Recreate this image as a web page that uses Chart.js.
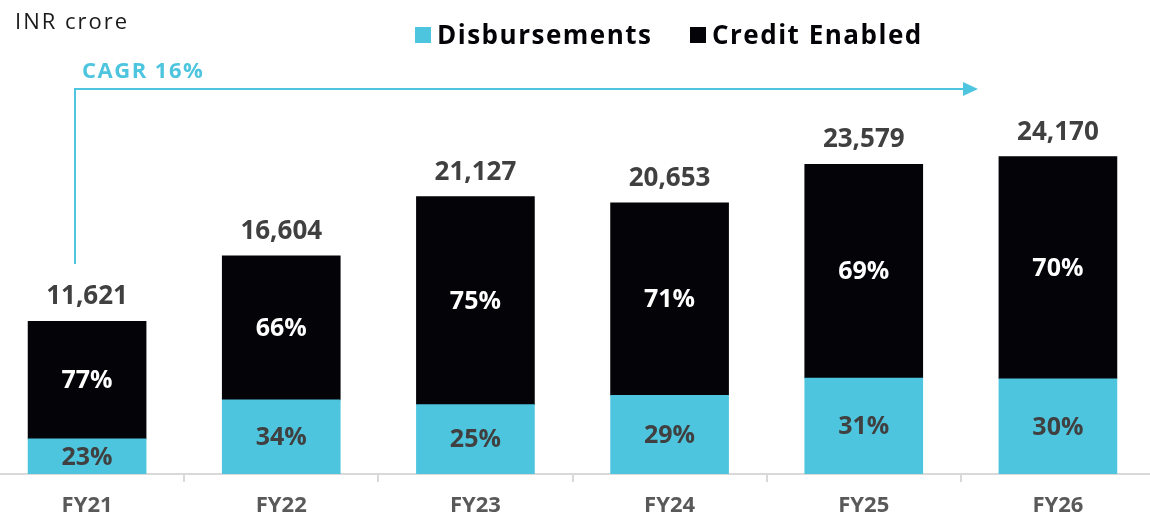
<!DOCTYPE html>
<html lang="en">
<head>
    <meta charset="UTF-8">
    <title>Disbursements and Credit Enabled</title>
    <script src="https://cdn.jsdelivr.net/npm/chart.js"></script>
    <style>
        body { margin: 0; overflow: hidden; background: #fff; }
        #wrap { position: absolute; left: -10px; top: 0; width: 1165px; height: 517px; }
    </style>
</head>
<body>
    <div id="wrap">
        <canvas id="myChart"></canvas>
    </div>

    <script>
        // data
        const years = ['FY21', 'FY22', 'FY23', 'FY24', 'FY25', 'FY26'];
        const totals = [11621, 16604, 21127, 20653, 23579, 24170];
        const disbPct = [23, 34, 25, 29, 31, 30];
        const creditPct = [77, 66, 75, 71, 69, 70];

        const cyan = '#4ec5df';
        const black = '#030308';
        const grey = '#404040';

        const disbVals = totals.map((t, i) => t * disbPct[i] / 100);
        const creditVals = totals.map((t, i) => t * creditPct[i] / 100);

        // labels on the bars
        const barLabels = {
            id: 'barLabels',
            afterDatasetsDraw(chart) {
                const ctx = chart.ctx;
                const disbMeta = chart.getDatasetMeta(0);
                const credMeta = chart.getDatasetMeta(1);
                ctx.save();
                ctx.textAlign = 'center';
                years.forEach((y, i) => {
                    const d = disbMeta.data[i];
                    const c = credMeta.data[i];
                    ctx.font = 'bold 25px "Open Sans"';
                    ctx.textBaseline = 'middle';
                    ctx.fillStyle = grey;
                    ctx.fillText(disbPct[i] + '%', d.x, (d.y + d.base) / 2 + 1);
                    ctx.fillStyle = '#ffffff';
                    ctx.fillText(creditPct[i] + '%', c.x, (c.y + c.base) / 2 + 1);
                    ctx.fillStyle = grey;
                    ctx.textBaseline = 'alphabetic';
                    ctx.font = 'bold 26px "Open Sans"';
                    ctx.fillText(totals[i].toLocaleString('en-US'), c.x, c.y - 17);
                });
                ctx.restore();
            }
        };

        // header: unit, legend, CAGR arrow
        const header = {
            id: 'header',
            afterDraw(chart) {
                const ctx = chart.ctx;
                ctx.save();
                ctx.translate(10, 0);
                ctx.textBaseline = 'alphabetic';
                ctx.textAlign = 'left';

                ctx.fillStyle = '#1a1a1a';
                ctx.font = '22px "Open Sans"';
                ctx.letterSpacing = '2px';
                ctx.fillText('INR crore', 15, 29);

                ctx.fillStyle = cyan;
                ctx.font = 'bold 22px "Open Sans"';
                ctx.letterSpacing = '1.5px';
                ctx.fillText('CAGR 16%', 82, 78);

                ctx.font = 'bold 26px "Open Sans"';
                ctx.fillStyle = cyan;
                ctx.fillRect(415, 27, 16, 16);
                ctx.fillStyle = black;
                ctx.fillText('Disbursements', 437, 44);
                ctx.fillRect(690, 27, 16, 16);
                ctx.fillText('Credit Enabled', 712, 44);

                ctx.strokeStyle = cyan;
                ctx.lineWidth = 2;
                ctx.beginPath();
                ctx.moveTo(75, 264);
                ctx.lineTo(75, 89);
                ctx.lineTo(966, 89);
                ctx.stroke();
                ctx.fillStyle = cyan;
                ctx.beginPath();
                ctx.moveTo(963, 82);
                ctx.lineTo(978, 89);
                ctx.lineTo(963, 96);
                ctx.closePath();
                ctx.fill();
                ctx.restore();
            }
        };

        const data = {
            labels: years,
            datasets: [
                {
                    label: 'Disbursements',
                    data: disbVals,
                    backgroundColor: cyan,
                    barThickness: 118
                },
                {
                    label: 'Credit Enabled',
                    data: creditVals,
                    backgroundColor: black,
                    barThickness: 118
                }
            ]
        };

        const config = {
            type: 'bar',
            data: data,
            plugins: [barLabels, header],
            options: {
                responsive: true,
                maintainAspectRatio: false,
                animation: false,
                layout: { padding: { top: 80, left: 0, right: 0, bottom: 0 } },
                plugins: {
                    legend: { display: false },
                    tooltip: { enabled: false }
                },
                scales: {
                    x: {
                        stacked: true,
                        afterFit(s) { s.height = 43; },
                        grid: {
                            offset: true,
                            drawOnChartArea: false,
                            drawTicks: true,
                            tickLength: 8,
                            color: '#d9d9d9',
                            lineWidth: 2
                        },
                        border: { color: '#d9d9d9', width: 2 },
                        ticks: {
                            color: '#595959',
                            padding: 11,
                            font: { family: 'Open Sans', size: 22, weight: 'bold' }
                        }
                    },
                    y: {
                        stacked: true,
                        display: false,
                        min: 0,
                        max: 30000
                    }
                }
            }
        };

        new Chart(document.getElementById('myChart'), config);
    </script>
</body>
</html>
